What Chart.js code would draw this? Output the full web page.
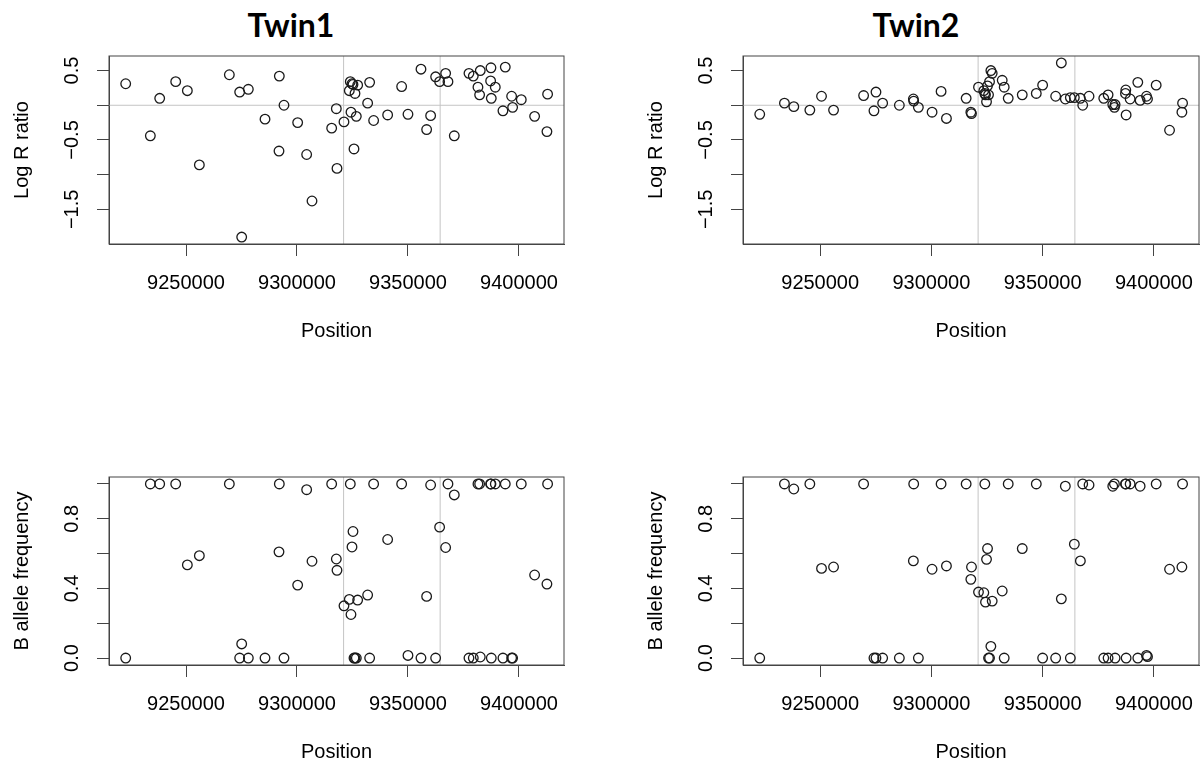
<!DOCTYPE html>
<html>
<head>
<meta charset="utf-8">
<script src="https://cdn.jsdelivr.net/npm/chart.js@4.4.1/dist/chart.umd.min.js"></script>
<style>
  body { margin: 0; width: 1203px; height: 767px; overflow: hidden; background: #fff; position: relative; }
  .twin { position: absolute; top: 9px; width: 200px; text-align: center; font-family: Lato, sans-serif; font-weight: bold; font-size: 32px; line-height: 32px; color: #000; }
  canvas { position: absolute; }
</style>
</head>
<body>
<div class="twin" style="left:191px">Twin1</div>
<div class="twin" style="left:816px">Twin2</div>
<canvas id="lrr1" width="600" height="320" style="left:0px;top:40px"></canvas>
<canvas id="lrr2" width="600" height="320" style="left:634px;top:40px"></canvas>
<canvas id="baf1" width="600" height="320" style="left:0px;top:461px"></canvas>
<canvas id="baf2" width="600" height="320" style="left:634px;top:461px"></canvas>
<script>
// SNP positions (shared by both twins)
const positions = [9222820, 9233930, 9238140, 9245350, 9250600, 9256010, 9269520, 9274170, 9275080, 9278080,
  9285590, 9291890, 9292040, 9294140, 9300300, 9304350, 9306760, 9315620, 9317720, 9318020,
  9321170, 9323570, 9324020, 9324320, 9324780, 9325230, 9325680, 9326130, 9326730, 9327330,
  9331830, 9332730, 9334530, 9340840, 9347150, 9350000, 9355860, 9358410, 9360210, 9362460,
  9364260, 9366970, 9368020, 9370870, 9377480, 9379430, 9381530, 9382280, 9382580, 9387240,
  9387390, 9387540, 9389340, 9392790, 9393840, 9396700, 9397150, 9401050, 9407060, 9412610, 9412910]

const lrrTwin1 = [0.31, -0.44, 0.10, 0.34, 0.21, -0.86, 0.44, 0.19, -1.90, 0.23,
  -0.20, -0.66, 0.42, 0.00, -0.25, -0.71, -1.38, -0.33, -0.05, -0.91,
  -0.24, 0.21, 0.34, -0.10, 0.31, 0.30, -0.63, 0.17, -0.16, 0.29,
  0.03, 0.33, -0.22, -0.14, 0.27, -0.13, 0.52, -0.35, -0.15, 0.41,
  0.34, 0.46, 0.34, -0.44, 0.46, 0.42, 0.26, 0.15, 0.50, 0.35,
  0.54, 0.10, 0.26, -0.08, 0.55, 0.13, -0.03, 0.08, -0.16, -0.38, 0.16]

const lrrTwin2 = [-0.13, 0.03, -0.02, -0.07, 0.13, -0.07, 0.14, -0.08, 0.19, 0.03,
  0.00, 0.09, 0.06, -0.03, -0.10, 0.20, -0.19, 0.10, -0.10, -0.12,
  0.26, 0.21, 0.17, 0.15, 0.05, 0.28, 0.15, 0.34, 0.50, 0.46,
  0.36, 0.26, 0.10, 0.15, 0.17, 0.29, 0.13, 0.61, 0.09, 0.11,
  0.11, 0.10, 0.00, 0.13, 0.10, 0.15, 0.01, -0.03, 0.01, 0.17,
  0.22, -0.14, 0.09, 0.33, 0.07, 0.13, 0.09, 0.29, -0.36, -0.10, 0.03]

const bafTwin1 = [0.00, 1.00, 1.00, 1.00, 0.535, 0.588, 1.00, 0.00, 0.081, 0.00,
  0.00, 0.61, 1.00, 0.00, 0.419, 0.967, 0.556, 1.00, 0.569, 0.504,
  0.30, 0.337, 1.00, 0.25, 0.638, 0.727, 0.00, 0.00, 0.00, 0.333,
  0.362, 0.00, 1.00, 0.681, 1.00, 0.015, 0.00, 0.354, 0.994, 0.00,
  0.752, 0.635, 1.00, 0.937, 0.00, 0.00, 1.00, 1.00, 0.006, 1.00,
  1.00, 0.00, 1.00, 0.00, 1.00, 0.00, 0.00, 1.00, 0.477, 0.425, 1.00]

const bafTwin2 = [0.00, 1.00, 0.971, 1.00, 0.515, 0.523, 1.00, 0.00, 0.00, 0.00,
  0.00, 0.558, 1.00, 0.00, 0.51, 1.00, 0.529, 1.00, 0.452, 0.523,
  0.379, 0.375, 1.00, 0.321, 0.567, 0.629, 0.00, 0.00, 0.067, 0.327,
  0.385, 0.00, 1.00, 0.629, 1.00, 0.00, 0.00, 0.34, 0.987, 0.00,
  0.654, 0.558, 1.00, 0.994, 0.00, 0.00, 0.987, 1.00, 0.00, 1.00,
  1.00, 0.00, 1.00, 0.00, 0.987, 0.015, 0.008, 1.00, 0.51, 0.523, 1.00]

// grey vertical lines (region boundaries)
const boundaries = [9321000, 9364500]

// axis ticks
const positionTicks = [9250000, 9300000, 9350000, 9400000]
const lrrTicks = [-1.5, -1, -0.5, 0, 0.5]
const lrrLabelValues = [-1.5, -0.5, 0.5]
const lrrLabels = ['\u22121.5', '\u22120.5', '0.5']
const bafTicks = [0, 0.2, 0.4, 0.6, 0.8, 1]
const bafLabelValues = [0, 0.4, 0.8]
const bafLabels = ['0.0', '0.4', '0.8']

const xMin = 9215300
const xMax = 9420300

Chart.defaults.font.family = '"Liberation Sans", Arial, sans-serif'
Chart.defaults.font.size = 20
Chart.defaults.color = '#000'

function drawPanel(id, values, yMin, yMax, yTicks, labelValues, labels, yTitle, rightPad, zeroLine) {
  let datasets = [{
    data: positions.map((p, i) => ({x: p, y: values[i]})),
    pointStyle: 'circle',
    pointRadius: 4.8,
    pointHoverRadius: 4.8,
    borderWidth: 1.3,
    borderColor: '#1a1a1a',
    backgroundColor: 'rgba(0,0,0,0)'
  }]
  boundaries.forEach(b => {
    datasets.push({data: [{x: b, y: yMin}, {x: b, y: yMax}], showLine: true, pointRadius: 0, borderColor: '#c4c4c4', borderWidth: 1})
  })
  if (zeroLine) {
    datasets.push({data: [{x: xMin, y: 0}, {x: xMax, y: 0}], showLine: true, pointRadius: 0, borderColor: '#c4c4c4', borderWidth: 1})
  }

  new Chart(document.getElementById(id), {
    type: 'scatter',
    data: {datasets: datasets},
    options: {
      responsive: false,
      animation: false,
      layout: {padding: {left: 0, top: 16, right: rightPad, bottom: 0}},
      plugins: {legend: {display: false}, tooltip: {enabled: false}},
      scales: {
        x: {
          type: 'linear', min: xMin, max: xMax,
          afterBuildTicks: s => { s.ticks = positionTicks.map(v => ({value: v})) },
          afterFit: s => { s.height = 116 },
          grid: {drawOnChartArea: false, tickLength: 12, color: '#444'},
          border: {color: '#444'},
          ticks: {padding: 15, maxRotation: 0, autoSkip: false, callback: v => String(v)},
          title: {display: true, text: 'Position', padding: {top: 0, bottom: 17}}
        },
        y: {
          min: yMin, max: yMax,
          afterBuildTicks: s => { s.ticks = yTicks.map(v => ({value: v})) },
          afterFit: s => { s.width = 109 },
          grid: {drawOnChartArea: false, tickLength: 12, color: '#444'},
          border: {color: '#444'},
          ticks: {display: false},
          title: {display: true, text: yTitle, padding: {top: 10.5, bottom: 0}}
        }
      }
    },
    plugins: [{
      id: 'box',
      afterDraw(chart) {
        const ctx = chart.ctx
        const a = chart.chartArea
        ctx.save()
        ctx.strokeStyle = '#444'
        ctx.lineWidth = 1
        ctx.strokeRect(a.left, a.top, a.right - a.left, a.bottom - a.top)
        // rotated y tick labels, like R
        ctx.fillStyle = '#000'
        ctx.font = '20px "Liberation Sans", Arial, sans-serif'
        ctx.textAlign = 'center'
        ctx.textBaseline = 'middle'
        labelValues.forEach((v, i) => {
          ctx.save()
          ctx.translate(a.left - 37, chart.scales.y.getPixelForValue(v))
          ctx.rotate(-Math.PI / 2)
          ctx.fillText(labels[i], 0, 0)
          ctx.restore()
        })
        ctx.restore()
      }
    }]
  })
}

drawPanel('lrr1', lrrTwin1, -2.0, 0.71, lrrTicks, lrrLabelValues, lrrLabels, 'Log R ratio', 36, true)
drawPanel('lrr2', lrrTwin2, -2.0, 0.71, lrrTicks, lrrLabelValues, lrrLabels, 'Log R ratio', 35, true)
drawPanel('baf1', bafTwin1, -0.04, 1.04, bafTicks, bafLabelValues, bafLabels, 'B allele frequency', 36, false)
drawPanel('baf2', bafTwin2, -0.04, 1.04, bafTicks, bafLabelValues, bafLabels, 'B allele frequency', 35, false)
</script>
</body>
</html>
